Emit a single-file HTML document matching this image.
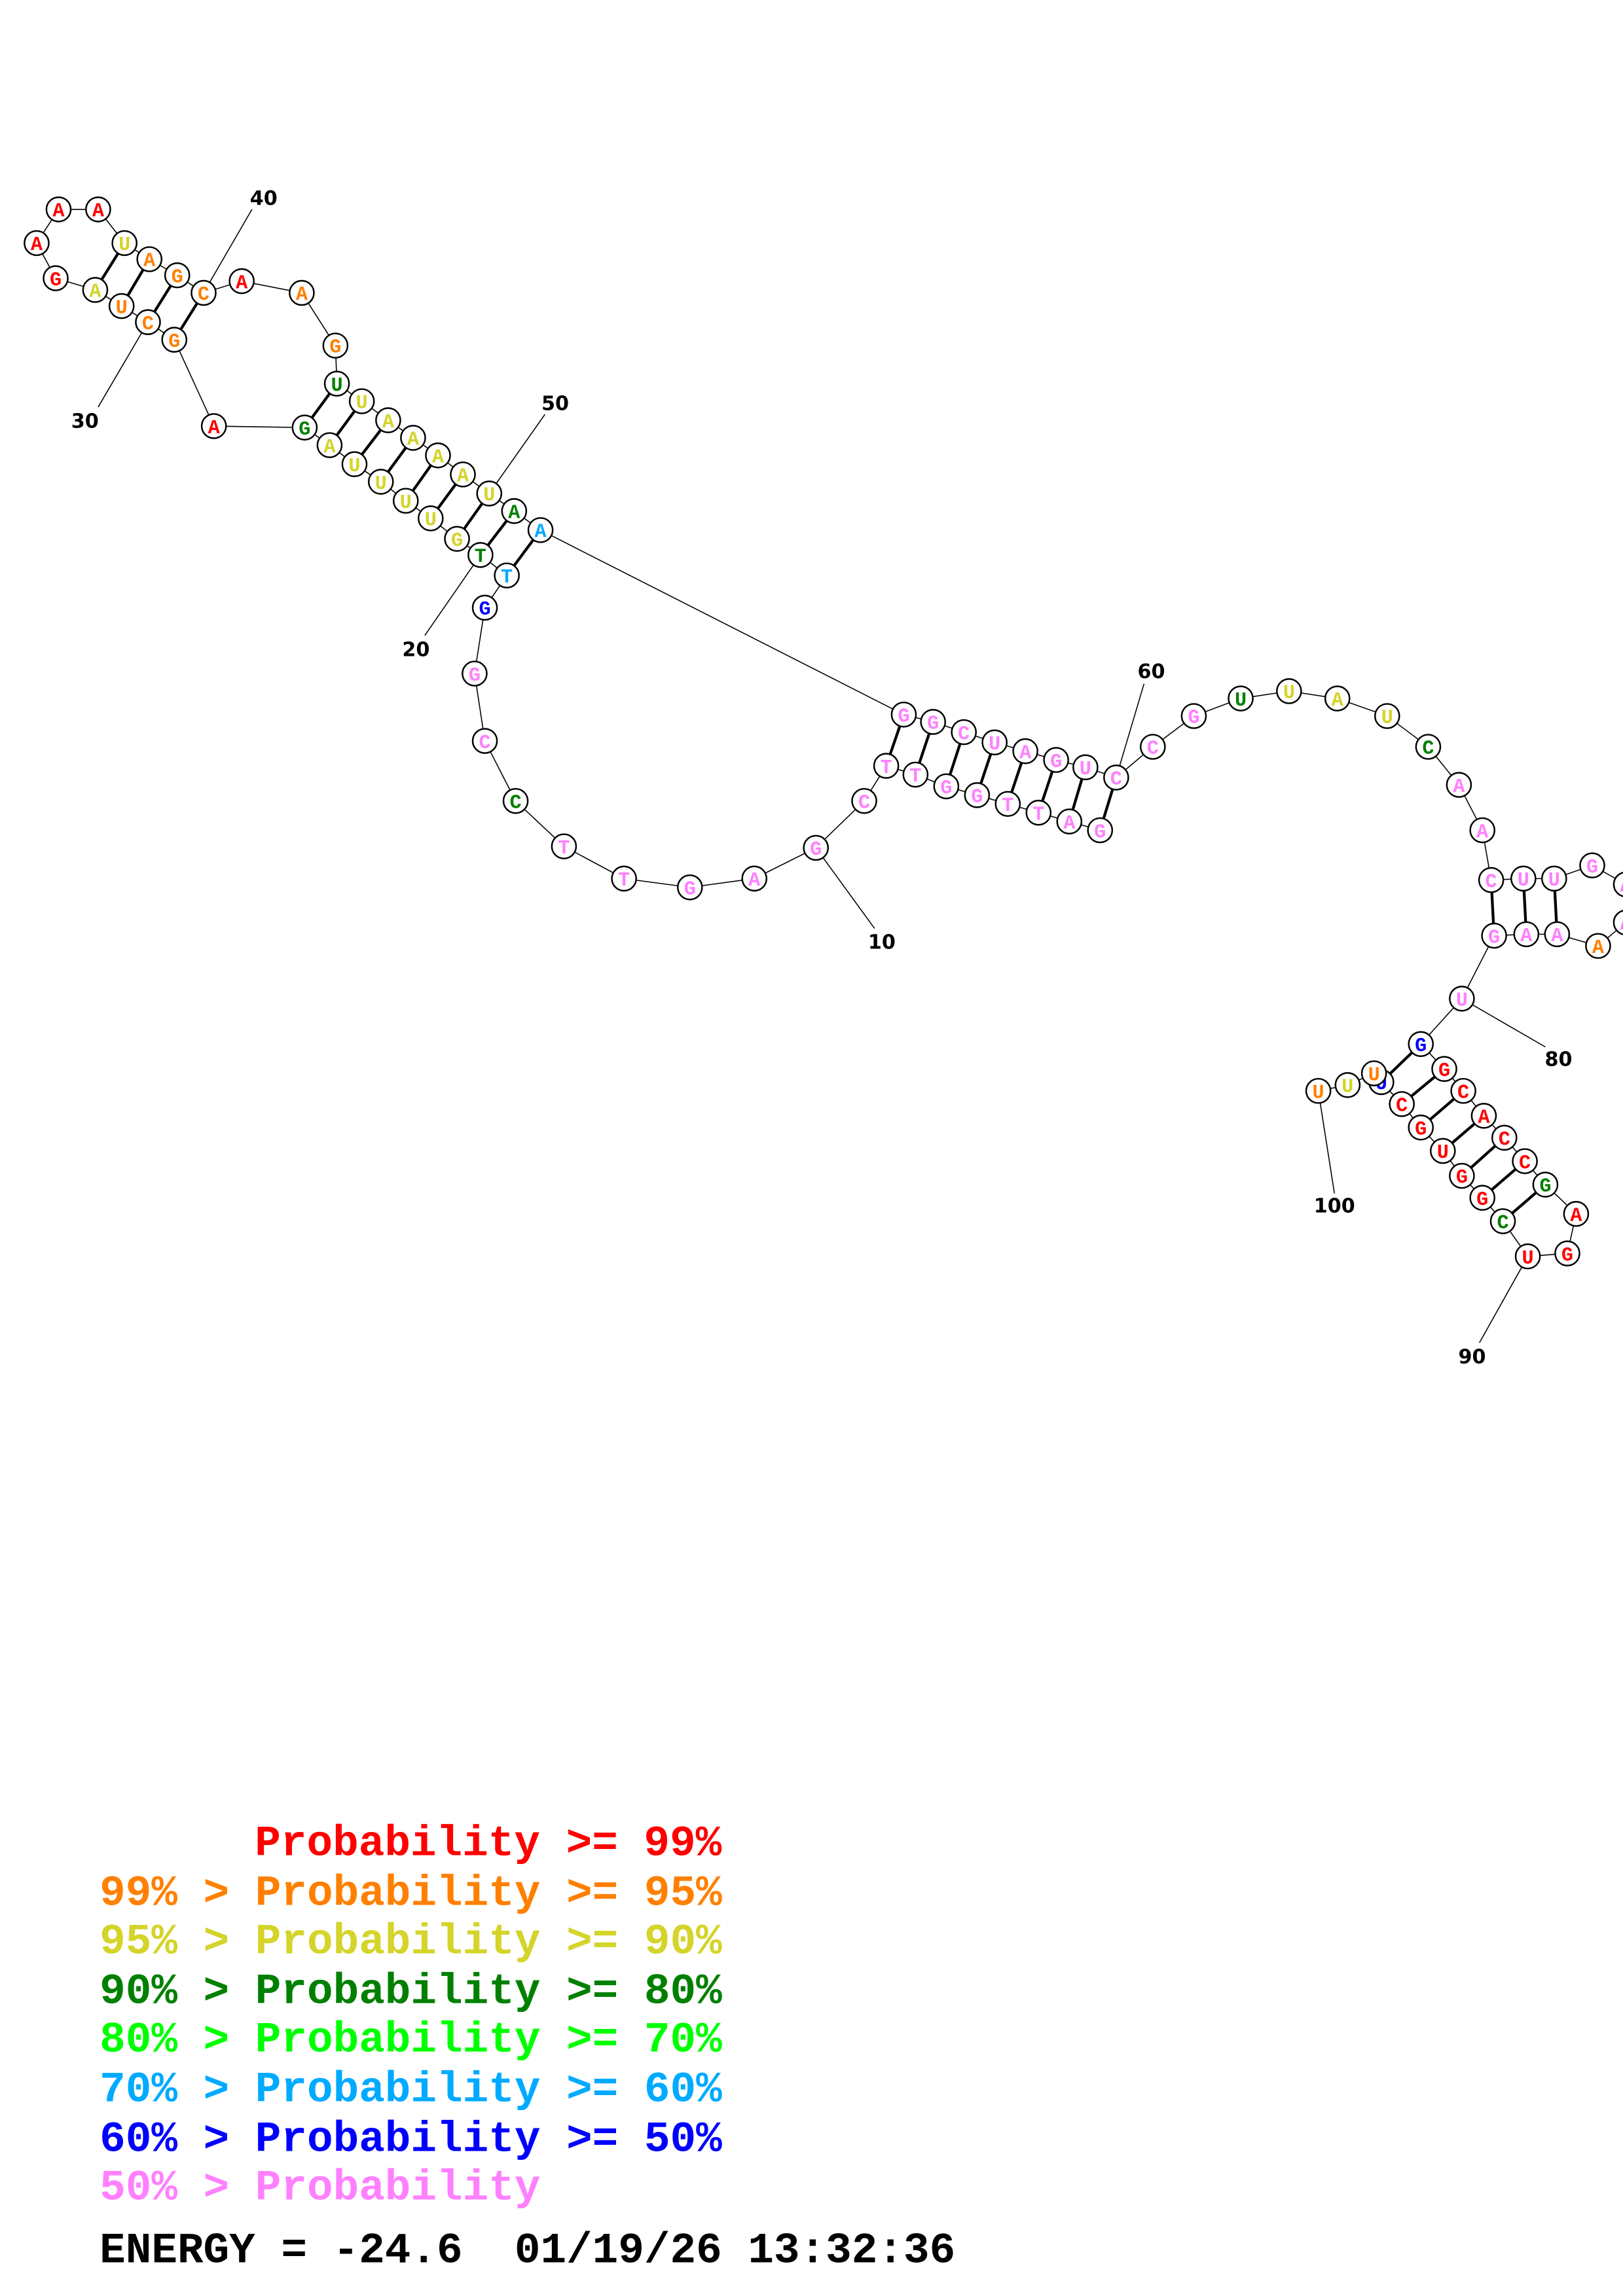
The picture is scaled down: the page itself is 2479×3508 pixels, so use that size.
<!DOCTYPE html>
<html><head><meta charset="utf-8"><style>
html,body{margin:0;padding:0;background:#fff;}
svg{display:block;}
.n{fill:#fff;stroke:#000;stroke-width:1.1;}
.l{font-family:"Liberation Mono",monospace;font-weight:bold;font-size:13.5px;text-anchor:middle;transform:translateY(0.8px);}
.num{font-family:"DejaVu Sans",sans-serif;font-weight:bold;font-size:13.5px;text-anchor:middle;fill:#000;}
.lg{font-family:"Liberation Mono",monospace;font-weight:bold;font-size:29.5px;}
.p{fill:#ff80ff}.r{fill:#ff0000}.o{fill:#ff8000}.y{fill:#d4d42a}.g{fill:#008000}.c{fill:#00aaff}.b{fill:#0000ff}.lgn{fill:#00ff00}
</style></head><body>
<svg width="2479" height="3508" viewBox="0 0 1108 1568" preserveAspectRatio="none" xmlns="http://www.w3.org/2000/svg">
<g stroke="#000" stroke-width="0.7" fill="none">
<polyline points="751,567 730,561 709,555 688,549 667,543 646,537 625,529 605,523 590,547 557,579 515,600 471,606 426,600 385,578 352,547 331,506 324,460 331,415 346,393 328,379 312,368 294,354 277,342 260,329 242,317 225,304 208,292 146,291 119,232 101,220 83,209 65,198 38,190 25,166 40,143 67,143 85,166 102,177 121,188 139,200 165,192 206,200 229,236 230,262 247,274 265,287 282,299 299,311 316,324 334,337 351,349 369,362 617,488 637,493 658,500 679,507 700,513 721,519 741,524 762,531 787,510 815,489 847,477 880,472 913,477 947,489 975,510 996,536 1012,567 1018,601 1040,600 1061,600 1087,591 1110,604 1110,630 1091,646 1063,638 1042,638 1020,639 998,682 970,713 986,730 999,745 1013,762 1027,777 1041,793 1055,809 1076,829 1070,856 1043,858 1026,834 1012,818 998,803 985,786 970,770 957,754 943,739 938,733 920,741 900,745"/>
<line x1="557" y1="579" x2="597" y2="634"/>
<line x1="328" y1="379" x2="290" y2="434"/>
<line x1="101" y1="220" x2="67" y2="278"/>
<line x1="139" y1="200" x2="172" y2="143"/>
<line x1="334" y1="337" x2="372" y2="283"/>
<line x1="762" y1="531" x2="781" y2="467"/>
<line x1="998" y1="682" x2="1055" y2="715"/>
<line x1="1043" y1="858" x2="1010" y2="917"/>
<line x1="900" y1="745" x2="911" y2="815"/>
</g>
<g stroke="#000" stroke-width="1.9">
<line x1="751" y1="567" x2="762" y2="531"/><line x1="730" y1="561" x2="741" y2="524"/><line x1="709" y1="555" x2="721" y2="519"/><line x1="688" y1="549" x2="700" y2="513"/><line x1="667" y1="543" x2="679" y2="507"/><line x1="646" y1="537" x2="658" y2="500"/><line x1="625" y1="529" x2="637" y2="493"/><line x1="605" y1="523" x2="617" y2="488"/>
<line x1="346" y1="393" x2="369" y2="362"/><line x1="328" y1="379" x2="351" y2="349"/><line x1="312" y1="368" x2="334" y2="337"/><line x1="294" y1="354" x2="316" y2="324"/><line x1="277" y1="342" x2="299" y2="311"/><line x1="260" y1="329" x2="282" y2="299"/><line x1="242" y1="317" x2="265" y2="287"/><line x1="225" y1="304" x2="247" y2="274"/><line x1="208" y1="292" x2="230" y2="262"/>
<line x1="119" y1="232" x2="139" y2="200"/><line x1="101" y1="220" x2="121" y2="188"/><line x1="83" y1="209" x2="102" y2="177"/><line x1="65" y1="198" x2="85" y2="166"/>
<line x1="1018" y1="601" x2="1020" y2="639"/><line x1="1040" y1="600" x2="1042" y2="638"/><line x1="1061" y1="600" x2="1063" y2="638"/>
<line x1="970" y1="713" x2="943" y2="739"/><line x1="986" y1="730" x2="957" y2="754"/><line x1="999" y1="745" x2="970" y2="770"/><line x1="1013" y1="762" x2="985" y2="786"/><line x1="1027" y1="777" x2="998" y2="803"/><line x1="1041" y1="793" x2="1012" y2="818"/><line x1="1055" y1="809" x2="1026" y2="834"/>
</g>
<g>
<circle class="n" cx="751" cy="567" r="8.3"/><text class="l p" x="751" y="571">G</text>
<circle class="n" cx="730" cy="561" r="8.3"/><text class="l p" x="730" y="565">A</text>
<circle class="n" cx="709" cy="555" r="8.3"/><text class="l p" x="709" y="559">T</text>
<circle class="n" cx="688" cy="549" r="8.3"/><text class="l p" x="688" y="553">T</text>
<circle class="n" cx="667" cy="543" r="8.3"/><text class="l p" x="667" y="547">G</text>
<circle class="n" cx="646" cy="537" r="8.3"/><text class="l p" x="646" y="541">G</text>
<circle class="n" cx="625" cy="529" r="8.3"/><text class="l p" x="625" y="533">T</text>
<circle class="n" cx="605" cy="523" r="8.3"/><text class="l p" x="605" y="527">T</text>
<circle class="n" cx="590" cy="547" r="8.3"/><text class="l p" x="590" y="551">C</text>
<circle class="n" cx="557" cy="579" r="8.3"/><text class="l p" x="557" y="583">G</text>
<circle class="n" cx="515" cy="600" r="8.3"/><text class="l p" x="515" y="604">A</text>
<circle class="n" cx="471" cy="606" r="8.3"/><text class="l p" x="471" y="610">G</text>
<circle class="n" cx="426" cy="600" r="8.3"/><text class="l p" x="426" y="604">T</text>
<circle class="n" cx="385" cy="578" r="8.3"/><text class="l p" x="385" y="582">T</text>
<circle class="n" cx="352" cy="547" r="8.3"/><text class="l g" x="352" y="551">C</text>
<circle class="n" cx="331" cy="506" r="8.3"/><text class="l p" x="331" y="510">C</text>
<circle class="n" cx="324" cy="460" r="8.3"/><text class="l p" x="324" y="464">G</text>
<circle class="n" cx="331" cy="415" r="8.3"/><text class="l b" x="331" y="419">G</text>
<circle class="n" cx="346" cy="393" r="8.3"/><text class="l c" x="346" y="397">T</text>
<circle class="n" cx="328" cy="379" r="8.3"/><text class="l g" x="328" y="383">T</text>
<circle class="n" cx="312" cy="368" r="8.3"/><text class="l y" x="312" y="372">G</text>
<circle class="n" cx="294" cy="354" r="8.3"/><text class="l y" x="294" y="358">U</text>
<circle class="n" cx="277" cy="342" r="8.3"/><text class="l y" x="277" y="346">U</text>
<circle class="n" cx="260" cy="329" r="8.3"/><text class="l y" x="260" y="333">U</text>
<circle class="n" cx="242" cy="317" r="8.3"/><text class="l y" x="242" y="321">U</text>
<circle class="n" cx="225" cy="304" r="8.3"/><text class="l y" x="225" y="308">A</text>
<circle class="n" cx="208" cy="292" r="8.3"/><text class="l g" x="208" y="296">G</text>
<circle class="n" cx="146" cy="291" r="8.3"/><text class="l r" x="146" y="295">A</text>
<circle class="n" cx="119" cy="232" r="8.3"/><text class="l o" x="119" y="236">G</text>
<circle class="n" cx="101" cy="220" r="8.3"/><text class="l o" x="101" y="224">C</text>
<circle class="n" cx="83" cy="209" r="8.3"/><text class="l o" x="83" y="213">U</text>
<circle class="n" cx="65" cy="198" r="8.3"/><text class="l y" x="65" y="202">A</text>
<circle class="n" cx="38" cy="190" r="8.3"/><text class="l r" x="38" y="194">G</text>
<circle class="n" cx="25" cy="166" r="8.3"/><text class="l r" x="25" y="170">A</text>
<circle class="n" cx="40" cy="143" r="8.3"/><text class="l r" x="40" y="147">A</text>
<circle class="n" cx="67" cy="143" r="8.3"/><text class="l r" x="67" y="147">A</text>
<circle class="n" cx="85" cy="166" r="8.3"/><text class="l y" x="85" y="170">U</text>
<circle class="n" cx="102" cy="177" r="8.3"/><text class="l o" x="102" y="181">A</text>
<circle class="n" cx="121" cy="188" r="8.3"/><text class="l o" x="121" y="192">G</text>
<circle class="n" cx="139" cy="200" r="8.3"/><text class="l o" x="139" y="204">C</text>
<circle class="n" cx="165" cy="192" r="8.3"/><text class="l r" x="165" y="196">A</text>
<circle class="n" cx="206" cy="200" r="8.3"/><text class="l o" x="206" y="204">A</text>
<circle class="n" cx="229" cy="236" r="8.3"/><text class="l o" x="229" y="240">G</text>
<circle class="n" cx="230" cy="262" r="8.3"/><text class="l g" x="230" y="266">U</text>
<circle class="n" cx="247" cy="274" r="8.3"/><text class="l y" x="247" y="278">U</text>
<circle class="n" cx="265" cy="287" r="8.3"/><text class="l y" x="265" y="291">A</text>
<circle class="n" cx="282" cy="299" r="8.3"/><text class="l y" x="282" y="303">A</text>
<circle class="n" cx="299" cy="311" r="8.3"/><text class="l y" x="299" y="315">A</text>
<circle class="n" cx="316" cy="324" r="8.3"/><text class="l y" x="316" y="328">A</text>
<circle class="n" cx="334" cy="337" r="8.3"/><text class="l y" x="334" y="341">U</text>
<circle class="n" cx="351" cy="349" r="8.3"/><text class="l g" x="351" y="353">A</text>
<circle class="n" cx="369" cy="362" r="8.3"/><text class="l c" x="369" y="366">A</text>
<circle class="n" cx="617" cy="488" r="8.3"/><text class="l p" x="617" y="492">G</text>
<circle class="n" cx="637" cy="493" r="8.3"/><text class="l p" x="637" y="497">G</text>
<circle class="n" cx="658" cy="500" r="8.3"/><text class="l p" x="658" y="504">C</text>
<circle class="n" cx="679" cy="507" r="8.3"/><text class="l p" x="679" y="511">U</text>
<circle class="n" cx="700" cy="513" r="8.3"/><text class="l p" x="700" y="517">A</text>
<circle class="n" cx="721" cy="519" r="8.3"/><text class="l p" x="721" y="523">G</text>
<circle class="n" cx="741" cy="524" r="8.3"/><text class="l p" x="741" y="528">U</text>
<circle class="n" cx="762" cy="531" r="8.3"/><text class="l p" x="762" y="535">C</text>
<circle class="n" cx="787" cy="510" r="8.3"/><text class="l p" x="787" y="514">C</text>
<circle class="n" cx="815" cy="489" r="8.3"/><text class="l p" x="815" y="493">G</text>
<circle class="n" cx="847" cy="477" r="8.3"/><text class="l g" x="847" y="481">U</text>
<circle class="n" cx="880" cy="472" r="8.3"/><text class="l y" x="880" y="476">U</text>
<circle class="n" cx="913" cy="477" r="8.3"/><text class="l y" x="913" y="481">A</text>
<circle class="n" cx="947" cy="489" r="8.3"/><text class="l y" x="947" y="493">U</text>
<circle class="n" cx="975" cy="510" r="8.3"/><text class="l g" x="975" y="514">C</text>
<circle class="n" cx="996" cy="536" r="8.3"/><text class="l p" x="996" y="540">A</text>
<circle class="n" cx="1012" cy="567" r="8.3"/><text class="l p" x="1012" y="571">A</text>
<circle class="n" cx="1018" cy="601" r="8.3"/><text class="l p" x="1018" y="605">C</text>
<circle class="n" cx="1040" cy="600" r="8.3"/><text class="l p" x="1040" y="604">U</text>
<circle class="n" cx="1061" cy="600" r="8.3"/><text class="l p" x="1061" y="604">U</text>
<circle class="n" cx="1087" cy="591" r="8.3"/><text class="l p" x="1087" y="595">G</text>
<circle class="n" cx="1110" cy="604" r="8.3"/><text class="l p" x="1110" y="608">A</text>
<circle class="n" cx="1110" cy="630" r="8.3"/><text class="l p" x="1110" y="634">A</text>
<circle class="n" cx="1091" cy="646" r="8.3"/><text class="l o" x="1091" y="650">A</text>
<circle class="n" cx="1063" cy="638" r="8.3"/><text class="l p" x="1063" y="642">A</text>
<circle class="n" cx="1042" cy="638" r="8.3"/><text class="l p" x="1042" y="642">A</text>
<circle class="n" cx="1020" cy="639" r="8.3"/><text class="l p" x="1020" y="643">G</text>
<circle class="n" cx="998" cy="682" r="8.3"/><text class="l p" x="998" y="686">U</text>
<circle class="n" cx="970" cy="713" r="8.3"/><text class="l b" x="970" y="717">G</text>
<circle class="n" cx="986" cy="730" r="8.3"/><text class="l r" x="986" y="734">G</text>
<circle class="n" cx="999" cy="745" r="8.3"/><text class="l r" x="999" y="749">C</text>
<circle class="n" cx="1013" cy="762" r="8.3"/><text class="l r" x="1013" y="766">A</text>
<circle class="n" cx="1027" cy="777" r="8.3"/><text class="l r" x="1027" y="781">C</text>
<circle class="n" cx="1041" cy="793" r="8.3"/><text class="l r" x="1041" y="797">C</text>
<circle class="n" cx="1055" cy="809" r="8.3"/><text class="l g" x="1055" y="813">G</text>
<circle class="n" cx="1076" cy="829" r="8.3"/><text class="l r" x="1076" y="833">A</text>
<circle class="n" cx="1070" cy="856" r="8.3"/><text class="l r" x="1070" y="860">G</text>
<circle class="n" cx="1043" cy="858" r="8.3"/><text class="l r" x="1043" y="862">U</text>
<circle class="n" cx="1026" cy="834" r="8.3"/><text class="l g" x="1026" y="838">C</text>
<circle class="n" cx="1012" cy="818" r="8.3"/><text class="l r" x="1012" y="822">G</text>
<circle class="n" cx="998" cy="803" r="8.3"/><text class="l r" x="998" y="807">G</text>
<circle class="n" cx="985" cy="786" r="8.3"/><text class="l r" x="985" y="790">U</text>
<circle class="n" cx="970" cy="770" r="8.3"/><text class="l r" x="970" y="774">G</text>
<circle class="n" cx="957" cy="754" r="8.3"/><text class="l r" x="957" y="758">C</text>
<circle class="n" cx="943" cy="739" r="8.3"/><text class="l b" x="943" y="743">U</text>
<circle class="n" cx="938" cy="733" r="8.3"/><text class="l o" x="938" y="737">U</text>
<circle class="n" cx="920" cy="741" r="8.3"/><text class="l y" x="920" y="745">U</text>
<circle class="n" cx="900" cy="745" r="8.3"/><text class="l o" x="900" y="749">U</text>
</g>
<g>
<text class="num" x="180" y="140">40</text>
<text class="num" x="58" y="292">30</text>
<text class="num" x="379" y="280">50</text>
<text class="num" x="284" y="448">20</text>
<text class="num" x="602" y="648">10</text>
<text class="num" x="786" y="463">60</text>
<text class="num" x="1064" y="728">80</text>
<text class="num" x="1005" y="931">90</text>
<text class="num" x="911" y="828">100</text>
</g>
<g class="lg">
<text x="174" y="1267" class="r">Probability &gt;= 99%</text>
<text x="68" y="1301" class="o">99% &gt; Probability &gt;= 95%</text>
<text x="68" y="1334" class="y">95% &gt; Probability &gt;= 90%</text>
<text x="68" y="1368" class="g">90% &gt; Probability &gt;= 80%</text>
<text x="68" y="1401" class="lgn">80% &gt; Probability &gt;= 70%</text>
<text x="68" y="1435" class="c">70% &gt; Probability &gt;= 60%</text>
<text x="68" y="1469" class="b">60% &gt; Probability &gt;= 50%</text>
<text x="68" y="1502" class="p">50% &gt; Probability</text>
<text x="68" y="1545" fill="#000" xml:space="preserve">ENERGY = -24.6  01/19/26 13:32:36</text>
</g>
</svg>
</body></html>
